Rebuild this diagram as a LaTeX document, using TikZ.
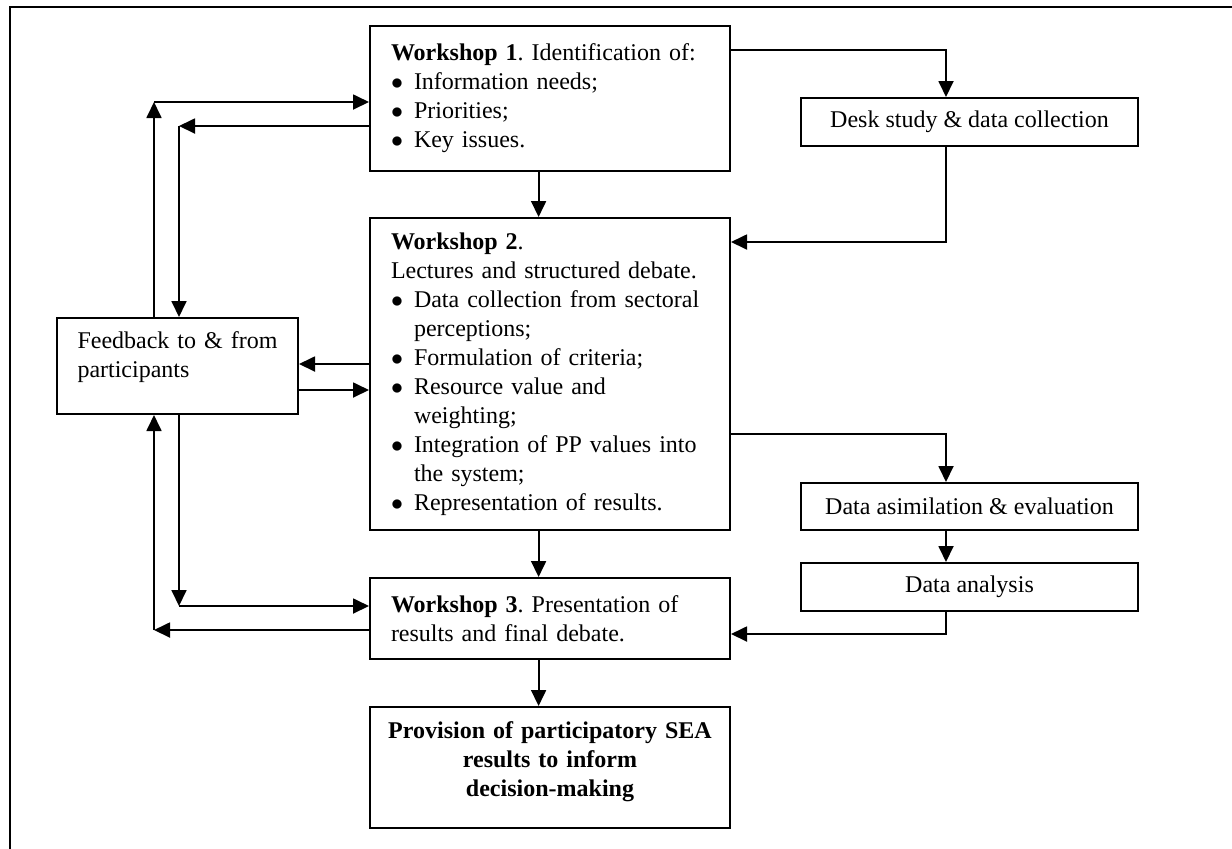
\documentclass[tikz,border=0pt]{standalone}
\usepackage{fontspec}
\setmainfont{Liberation Serif}
\usetikzlibrary{arrows.meta}

\newcommand{\bitem}[1]{\makebox[11.5pt][l]{$\bullet$}#1}
\newcommand{\bcont}[1]{\hspace*{11.5pt}#1}

\begin{document}
\begin{tikzpicture}[x=0.5pt,y=-0.5pt,->,>={Triangle[length=8pt,width=7.5pt]},
  line width=0.9pt,
  work box/.style={draw,rectangle,line width=1pt,minimum width=180pt,
  text width=159pt,inner xsep=10.5pt,align=left,
  font=\fontsize{12}{14.5}\selectfont\frenchspacing},
  side box/.style={draw,rectangle,line width=1pt,minimum width=168.5pt,
  minimum height=24pt,align=center,font=\fontsize{12}{14.5}\selectfont}]

  \useasboundingbox (0,0) rectangle (1232,848);
  \draw[-,line width=1pt] (10,7) rectangle (1260,880);

  \node[work box,minimum height=72.5pt] (w1) at (550,98.5)
    {\textbf{Workshop 1}. Identification of:\\
     \bitem{Information needs;}\\
     \bitem{Priorities;}\\
     \bitem{Key issues.}};
  \node[work box,minimum height=156pt] (w2) at (550,374)
    {\textbf{Workshop 2}.\\
     Lectures and structured debate.\\
     \bitem{Data collection from sectoral}\\
     \bcont{perceptions;}\\
     \bitem{Formulation of criteria;}\\
     \bitem{Resource value and}\\
     \bcont{weighting;}\\
     \bitem{Integration of PP values into}\\
     \bcont{the system;}\\
     \bitem{Representation of results.}};
  \node[work box,minimum height=40.5pt] (w3) at (550,618.5)
    {\textbf{Workshop 3}. Presentation of\\
     results and final debate.};
  \node[work box,minimum height=60.5pt,text width=170pt,inner xsep=5pt,
    text depth=37.5pt,align=center,
    font=\fontsize{12}{14.5}\selectfont\bfseries] (prov) at (550,767.5)
    {Provision of participatory SEA\\results to inform\\decision-making};

  \node[draw,rectangle,line width=1pt,minimum width=120.5pt,minimum height=48pt,
    text width=100pt,inner xsep=10.25pt,text depth=25.5pt,align=left,
    font=\fontsize{12}{14.5}\selectfont] (fb) at (177.5,366)
    {Feedback to \& from\\participants};

  \node[side box] (desk) at (969.5,122) {Desk study \& data collection};
  \node[side box,minimum height=23.5pt] (asim) at (969.5,506.5)
    {Data asimilation \& evaluation};
  \node[side box] (anal) at (969.5,587) {Data analysis};

  % corners of the connectors
  \coordinate (out top) at (154,102);
  \coordinate (in top) at (179,126);
  \coordinate (in bot) at (179,606);
  \coordinate (out bot) at (154,630);
  \coordinate (fb in) at ([yshift=1pt]fb.east);
  \coordinate (fb out) at ([yshift=-12pt]fb.east);
  \coordinate (down) at (538.6,0);
  \coordinate (desk in) at (946,50);
  \coordinate (desk out) at (946,242);
  \coordinate (asim in) at (946,434);
  \coordinate (anal out) at (946,634);

  % main column
  \draw (w1.south -| down) -- (w2.north -| down);
  \draw (w2.south -| down) -- (w3.north -| down);
  \draw (w3.south -| down) -- (prov.north -| down);

  % feedback loops on the left
  \draw (fb.north -| out top) -- (out top);
  \draw (out top) -- (w1.west |- out top);
  \draw (w1.west |- in top) -- (in top);
  \draw (in top) -- (fb.north -| in top);
  \draw (w2.west |- fb in) -- (fb in);
  \draw (fb out) -- (w2.west |- fb out);
  \draw (fb.south -| in bot) -- (in bot);
  \draw (in bot) -- (w3.west |- in bot);
  \draw (w3.west |- out bot) -- (out bot);
  \draw (out bot) -- (fb.south -| out bot);

  % data work on the right
  \draw (w1.east |- desk in) -- (desk in) -- (desk.north -| desk in);
  \draw (desk.south -| desk out) -- (desk out) -- (w2.east |- desk out);
  \draw (w2.east |- asim in) -- (asim in) -- (asim.north -| asim in);
  \draw (asim.south -| asim in) -- (anal.north -| asim in);
  \draw (anal.south -| anal out) -- (anal out) -- (w3.east |- anal out);

\end{tikzpicture}
\end{document}
